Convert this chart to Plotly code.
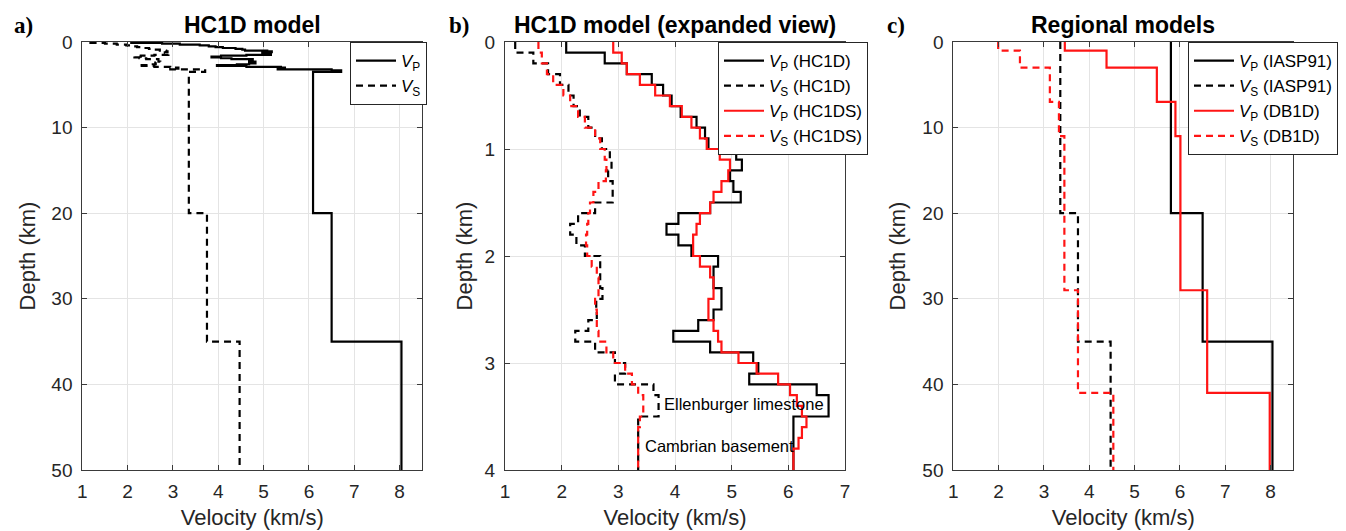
import plotly.graph_objects as go

# ---------------- data ----------------
# HC1D model: layer top depths (km) and velocities (km/s); last layer ends at 50 km
hc1d_tops = [0.0, 0.1, 0.2, 0.3, 0.4, 0.5, 0.6, 0.7, 0.8, 0.9,
             1.0, 1.1, 1.2, 1.3, 1.4, 1.5, 1.6, 1.7, 1.8, 1.9,
             2.0, 2.1, 2.2, 2.3, 2.4, 2.5, 2.6, 2.7, 2.8, 2.9,
             3.0, 3.1, 3.2, 3.3, 3.5, 20.0, 35.0]
hc1d_vp = [2.08, 2.76, 3.15, 3.59, 3.79, 3.94, 4.10, 4.38, 4.53, 4.59,
           5.08, 5.18, 4.97, 5.03, 5.16, 4.62, 4.06, 3.85, 4.06, 4.29,
           4.76, 4.68, 4.68, 4.82, 4.82, 4.68, 4.41, 3.97, 4.62, 5.38,
           5.47, 5.31, 6.50, 6.71, 6.09, 6.50, 8.04]
hc1d_vs = [1.18, 1.50, 1.76, 1.97, 2.12, 2.21, 2.32, 2.47, 2.59, 2.71,
           2.85, 2.88, 2.82, 2.90, 2.90, 2.59, 2.29, 2.15, 2.26, 2.41,
           2.68, 2.68, 2.68, 2.72, 2.61, 2.62, 2.47, 2.24, 2.59, 2.94,
           3.12, 2.94, 3.62, 3.71, 3.35, 3.75, 4.47]
hc1d_bottom = 50.0

# HC1DS model (shown in the expanded view only)
hc1ds_tops = [0.0, 0.1, 0.2, 0.3, 0.4, 0.5, 0.6, 0.7, 0.8, 0.9,
              1.0, 1.1, 1.2, 1.3, 1.4, 1.5, 1.6, 1.7, 1.8, 1.9,
              2.0, 2.1, 2.2, 2.3, 2.4, 2.5, 2.6, 2.7, 2.8, 2.9,
              3.0, 3.1, 3.2, 3.3, 3.4, 3.5, 3.6, 3.7, 3.8, 3.9]
hc1ds_vp = [2.91, 3.06, 3.15, 3.38, 3.65, 3.91, 4.12, 4.29, 4.44, 4.56,
            4.79, 4.97, 4.94, 4.82, 4.68, 4.62, 4.44, 4.38, 4.32, 4.32,
            4.44, 4.62, 4.68, 4.68, 4.59, 4.59, 4.68, 4.76, 4.82, 5.12,
            5.44, 5.82, 6.03, 6.15, 6.24, 6.32, 6.24, 6.18, 6.09, 6.09]
hc1ds_vs = [1.59, 1.65, 1.74, 1.85, 2.03, 2.15, 2.29, 2.41, 2.59, 2.68,
            2.76, 2.79, 2.78, 2.65, 2.56, 2.50, 2.47, 2.45, 2.43, 2.45,
            2.53, 2.62, 2.65, 2.65, 2.59, 2.62, 2.62, 2.65, 2.79, 2.91,
            3.12, 3.24, 3.35, 3.44, 3.44, 3.38, 3.35, 3.35, 3.35, 3.35]
hc1ds_bottom = 4.0

# Regional models
iasp_tops = [0.0, 20.0, 35.0]
iasp_vp = [5.80, 6.50, 8.04]
iasp_vs = [3.36, 3.75, 4.47]

db1d_tops = [0.0, 1.0, 3.0, 7.0, 11.0, 29.0, 41.0]
db1d_vp = [3.46, 4.38, 5.49, 5.90, 6.01, 6.60, 7.98]
db1d_vs = [1.99, 2.47, 3.13, 3.33, 3.45, 3.75, 4.53]
regional_bottom = 50.0

panel_titles = ["HC1D model", "HC1D model (expanded view)", "Regional models"]
panel_letters = ["a)", "b)", "c)"]
x_ticks_ac = [1, 2, 3, 4, 5, 6, 7, 8]
x_ticks_b = [1, 2, 3, 4, 5, 6, 7]
y_ticks_ac = [0, 10, 20, 30, 40, 50]
y_ticks_b = [0, 1, 2, 3, 4]

# ---------------- styling ----------------
FONT = "Liberation Sans, Arial, Helvetica, sans-serif"
SERIF = "Liberation Serif, Times New Roman, serif"
TXT = "#262626"
BLACK = "#000000"
RED = "#ff1414"
LW = 2.2
DASH = "7px,5px"

# the page body adds an 8px offset; build the figure in window pixel terms
OFF = 8
W, H = 1346 - OFF, 531 - OFF
TOP_PX, BOT_PX = 42.3 - OFF, 470.0 - OFF
ML, MR, MT, MB = 0, 0, TOP_PX, H - BOT_PX

def stair(tops, vals, bottom):
    return list(vals) + [vals[-1]], list(tops) + [bottom]

fig = go.Figure()

def add(tops, vals, bottom, name, color, dash, xa, ya, legend):
    x, y = stair(tops, vals, bottom)
    fig.add_trace(go.Scatter(
        x=x, y=y, mode="lines", line_shape="vh", name=name,
        line=dict(color=color, width=LW, dash=dash),
        xaxis=xa, yaxis=ya, legend=legend, hoverinfo="skip"))

VP = "<i>V</i><sub>P</sub>"
VS = "<i>V</i><sub>S</sub>"

# panel a
add(hc1d_tops, hc1d_vp, hc1d_bottom, VP, BLACK, "solid", "x", "y", "legend")
add(hc1d_tops, hc1d_vs, hc1d_bottom, VS, BLACK, DASH, "x", "y", "legend")
# panel b
add(hc1d_tops, hc1d_vp, hc1d_bottom, VP + " (HC1D)", BLACK, "solid", "x2", "y2", "legend2")
add(hc1d_tops, hc1d_vs, hc1d_bottom, VS + " (HC1D)", BLACK, DASH, "x2", "y2", "legend2")
add(hc1ds_tops, hc1ds_vp, hc1ds_bottom, VP + " (HC1DS)", RED, "solid", "x2", "y2", "legend2")
add(hc1ds_tops, hc1ds_vs, hc1ds_bottom, VS + " (HC1DS)", RED, DASH, "x2", "y2", "legend2")
# panel c
add(iasp_tops, iasp_vp, regional_bottom, VP + " (IASP91)", BLACK, "solid", "x3", "y3", "legend3")
add(iasp_tops, iasp_vs, regional_bottom, VS + " (IASP91)", BLACK, DASH, "x3", "y3", "legend3")
add(db1d_tops, db1d_vp, regional_bottom, VP + " (DB1D)", RED, "solid", "x3", "y3", "legend3")
add(db1d_tops, db1d_vs, regional_bottom, VS + " (DB1D)", RED, DASH, "x3", "y3", "legend3")

# axes pixel geometry (window pixels)
xdom_px = [(82.3, 422.3), (505.0, 845.0), (953.3, 1293.3)]
xdoms = [((a - OFF) / W, (b - OFF) / W) for a, b in xdom_px]

common = dict(showline=True, linecolor="#3a3a3a", linewidth=1, mirror="ticks",
              ticks="inside", ticklen=5, tickcolor="#3a3a3a", showgrid=True,
              gridcolor="#e4e4e4", gridwidth=1, zeroline=False, automargin=False,
              tickfont=dict(family=FONT, size=19, color=TXT))

xranges = [[1, 8.5], [1, 7], [1, 8.5]]
xticks = [x_ticks_ac, x_ticks_b, x_ticks_ac]
yranges = [[50, 0], [4, 0], [50, 0]]
yticks = [y_ticks_ac, y_ticks_b, y_ticks_ac]
ystand = [9, 5, 10]

for i in range(3):
    sx = "" if i == 0 else str(i + 1)
    fig.update_layout(**{
        "xaxis" + sx: dict(common, domain=list(xdoms[i]), range=xranges[i],
                           tickvals=xticks[i], anchor="y" + sx, ticklabelstandoff=4,
                           title=dict(text="Velocity (km/s)", standoff=8,
                                      font=dict(family=FONT, size=22, color=TXT))),
        "yaxis" + sx: dict(common, domain=[0, 1], range=yranges[i],
                           tickvals=yticks[i], anchor="x" + sx, ticklabelstandoff=5,
                           title=dict(text="Depth (km)", standoff=ystand[i],
                                      font=dict(family=FONT, size=22, color=TXT))),
    })

ann = []
plot_h = BOT_PX - TOP_PX
def py(ypx):
    return (BOT_PX - (ypx - OFF)) / plot_h
def px(xpx):
    return (xpx - OFF) / W

for i in range(3):
    cx = px((xdom_px[i][0] + xdom_px[i][1]) / 2)
    ann.append(dict(text="<b>%s</b>" % panel_titles[i], x=cx, y=py(25), xref="paper",
                    yref="paper", xanchor="center", yanchor="middle", showarrow=False,
                    font=dict(family=FONT, size=23, color=BLACK)))
letter_px = [23, 459, 896]
for i in range(3):
    ann.append(dict(text="<b>%s</b>" % panel_letters[i], x=px(letter_px[i]), y=py(26),
                    xref="paper", yref="paper", xanchor="center", yanchor="middle",
                    showarrow=False, font=dict(family=SERIF, size=23, color=BLACK)))

ann.append(dict(text="Ellenburger limestone", x=3.77, y=3.38, xref="x2", yref="y2",
                xanchor="left", yanchor="middle", showarrow=False,
                font=dict(family=FONT, size=16.5, color=BLACK)))
ann.append(dict(text="Cambrian basement", x=3.43, y=3.78, xref="x2", yref="y2",
                xanchor="left", yanchor="middle", showarrow=False,
                font=dict(family=FONT, size=16.5, color=BLACK)))

leg = dict(y=1, xanchor="left", yanchor="top", bgcolor="white",
           bordercolor="#262626", borderwidth=1, itemwidth=40, tracegroupgap=0,
           font=dict(family=FONT, size=17, color=BLACK))

fig.update_layout(
    width=W, height=H, margin=dict(l=ML, r=MR, t=MT, b=MB, autoexpand=False),
    paper_bgcolor="white", plot_bgcolor="white",
    font=dict(family=FONT, color=TXT),
    annotations=ann,
    legend=dict(leg, x=px(350)),
    legend2=dict(leg, x=px(718)),
    legend3=dict(leg, x=px(1188)),
)

fig.write_html("out.html")
